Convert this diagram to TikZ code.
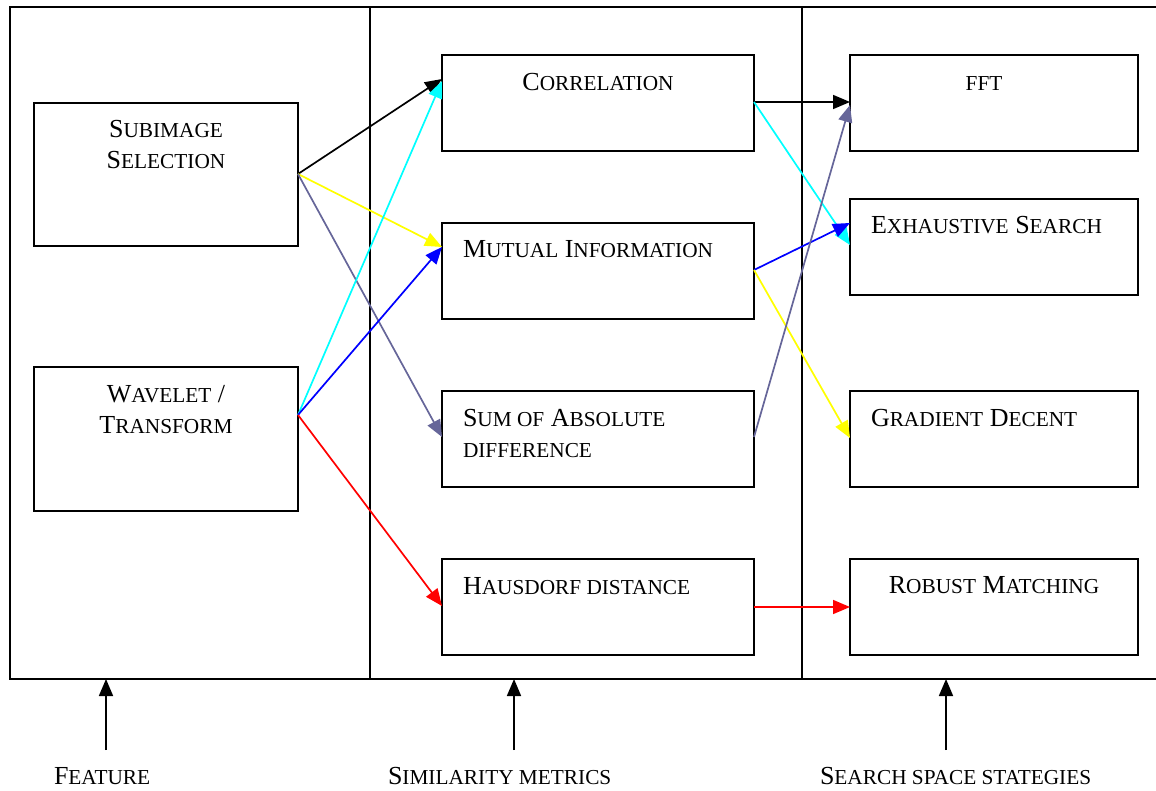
\documentclass[tikz,border=0pt]{standalone}
\usepackage{fontspec}
\setmainfont{Liberation Serif}
\usetikzlibrary{arrows.meta,calc}
\newcommand\lo[1]{{\fontsize{21.3}{25}\selectfont #1}}
\definecolor{slate}{RGB}{102,102,153}
\definecolor{cyanc}{RGB}{0,255,255}
\definecolor{yellowc}{RGB}{255,255,0}
\begin{document}
\begin{tikzpicture}[x=1pt,y=-1pt,
  every node/.style={font=\fontsize{26}{31}\selectfont},
  box/.style={draw,line width=2.4pt,inner sep=0pt,outer sep=0pt,anchor=north west},
  lbl/.style={inner sep=0pt,outer sep=0pt},
  conn/.style={#1,line width=1.7pt,-{Triangle[length=17pt,width=14pt]}},
  frame/.style={line width=2.2pt}]
\useasboundingbox (0,0) rectangle (1156,791);
% frame
\draw[frame] (1160,7) -- (10,7) -- (10,679) -- (1160,679);
\draw[frame] (370,7) -- (370,679);
\draw[frame] (802,7) -- (802,679);
% left column
\node[box,minimum width=264pt,minimum height=143pt] (sub) at (34,103) {};
\node[box,minimum width=264pt,minimum height=144pt] (wav) at (34,367) {};
\node[lbl,anchor=base] (subA) at (166,138) {S\lo{UBIMAGE}};
\node[lbl,anchor=base] (subB) at (166,169) {S\lo{ELECTION}};
\node[lbl,anchor=base] (wavA) at (166,402) {W\lo{AVELET} /};
\node[lbl,anchor=base] (wavB) at (166,433) {T\lo{RANSFORM}};
% middle column
\node[box,minimum width=312pt,minimum height=96pt] (cor) at (442,55) {};
\node[box,minimum width=312pt,minimum height=96pt] (mut) at (442,223) {};
\node[box,minimum width=312pt,minimum height=96pt] (sum) at (442,391) {};
\node[box,minimum width=312pt,minimum height=96pt] (hau) at (442,559) {};
\node[lbl,anchor=base] (corT) at (598,91) {C\lo{ORRELATION}};
\node[lbl,anchor=base west] (mutT) at (463,258) {M\lo{UTUAL} I\lo{NFORMATION}};
\node[lbl,anchor=base west] (sumA) at (463,426) {S\lo{UM OF} A\lo{BSOLUTE}};
\node[lbl,anchor=base west] (sumB) at (463,457) {\lo{DIFFERENCE}};
\node[lbl,anchor=base west] (hauT) at (463,594) {H\lo{AUSDORF DISTANCE}};
% right column
\node[box,minimum width=288pt,minimum height=96pt] (fft) at (850,55) {};
\node[box,minimum width=288pt,minimum height=96pt] (exh) at (850,199) {};
\node[box,minimum width=288pt,minimum height=96pt] (gra) at (850,391) {};
\node[box,minimum width=288pt,minimum height=96pt] (rob) at (850,559) {};
\node[lbl,anchor=base] (fftT) at (984,91) {\lo{FFT}};
\node[lbl,anchor=base west] (exhT) at (871,234) {E\lo{XHAUSTIVE} S\lo{EARCH}};
\node[lbl,anchor=base west] (graT) at (871,426) {G\lo{RADIENT} D\lo{ECENT}};
\node[lbl,anchor=base] (robT) at (994,593) {R\lo{OBUST} M\lo{ATCHING}};
% connectors feature -> metrics
\draw[conn=black]   ($(sub.north east)+(0,71)$) -- ($(cor.north west)+(0,24)$);
\draw[conn=yellowc] ($(sub.north east)+(0,71)$) -- ($(mut.north west)+(0,24)$);
\draw[conn=slate]   ($(sub.north east)+(0,71)$) -- ($(sum.north west)+(0,46)$);
\draw[conn=cyanc]   ($(wav.north east)+(0,48)$) -- ($(cor.north west)+(0,26)$);
\draw[conn=blue]    ($(wav.north east)+(0,48)$) -- ($(mut.north west)+(0,24)$);
\draw[conn=red]     ($(wav.north east)+(0,48)$) -- ($(hau.north west)+(0,47)$);
% connectors metrics -> search
\draw[conn=black]   ($(cor.north east)+(0,47)$) -- ($(fft.north west)+(0,47)$);
\draw[conn=cyanc]   ($(cor.north east)+(0,47)$) -- ($(exh.north west)+(0,46)$);
\draw[conn=blue]    ($(mut.north east)+(0,47)$) -- ($(exh.north west)+(0,24)$);
\draw[conn=yellowc] ($(mut.north east)+(0,47)$) -- ($(gra.north west)+(0,47)$);
\draw[conn=slate]   ($(sum.north east)+(0,46)$) -- ($(fft.north west)+(0,50)$);
\draw[conn=red]     ($(hau.north east)+(0,48)$) -- ($(rob.north west)+(0,48)$);
% bottom labels and arrows
\node[lbl,anchor=base west] (labF) at (54,784) {F\lo{EATURE}};
\node[lbl,anchor=base west] (labS) at (388,784) {S\lo{IMILARITY METRICS}};
\node[lbl,anchor=base west] (labR) at (820,784) {S\lo{EARCH SPACE STATEGIES}};
\coordinate (a1) at (106,750); \coordinate (t1) at (106,679);
\coordinate (a2) at (514,750); \coordinate (t2) at (514,679);
\coordinate (a3) at (946,750); \coordinate (t3) at (946,679);
\draw[conn=black] (a1) -- (t1);
\draw[conn=black] (a2) -- (t2);
\draw[conn=black] (a3) -- (t3);
\end{tikzpicture}
\end{document}
